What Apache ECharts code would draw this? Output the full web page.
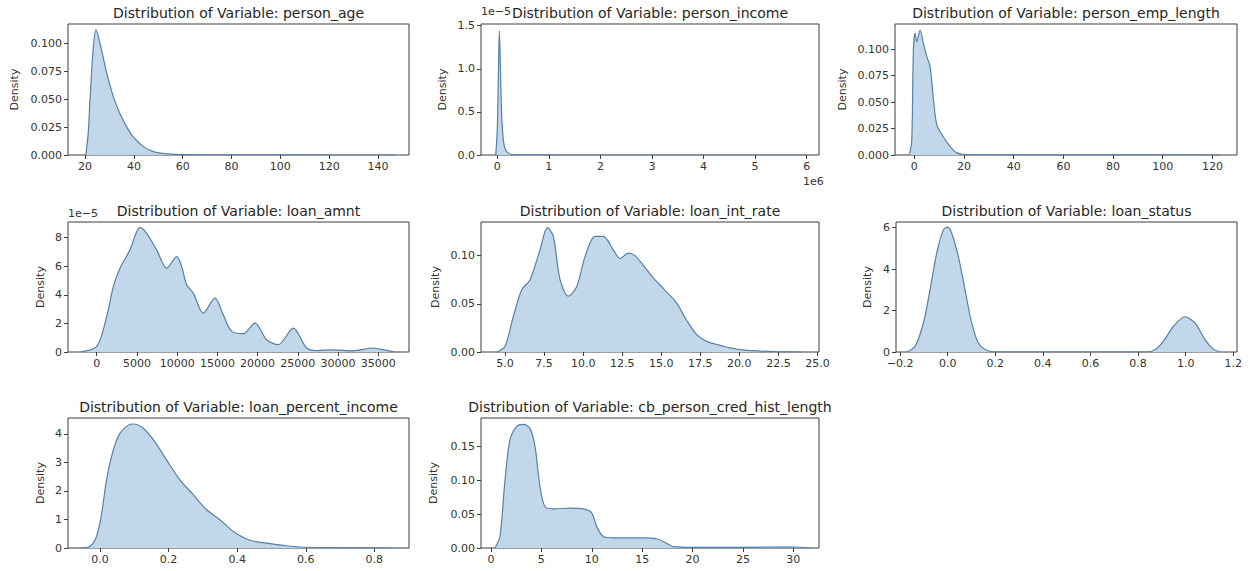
<!DOCTYPE html>
<html>
<head>
<meta charset="utf-8">
<script src="https://cdn.jsdelivr.net/npm/echarts@6/dist/echarts.min.js"></script>
<style>
html,body{margin:0;padding:0;background:#fff;}
#chart{width:1251px;height:571px;}
</style>
</head>
<body>
<div id="chart"></div>
<script>
// ---------- data ----------
const personAgeX = [20.3, 21.3, 22.0, 23.4, 24.5, 26.1, 28.9, 31.6, 34.3, 37.1, 39.8, 43.9, 48, 53.5, 61.6, 80, 100, 147];
const personAgeY = [0, 0.02, 0.049, 0.097, 0.112, 0.1, 0.073, 0.052, 0.037, 0.025, 0.016, 0.0075, 0.003, 0.001, 0.0003, 0.0001, 0.00003, 0];

const personIncomeX = [-30000, 0, 20000, 40000, 60000, 80000, 100000, 130000, 170000, 220000, 300000, 1000000, 6000000];
const personIncomeY = [0, 0.3e-5, 0.9e-5, 1.44e-5, 1.05e-5, 0.55e-5, 0.3e-5, 0.12e-5, 0.05e-5, 0.02e-5, 0.005e-5, 0.0003e-5, 0];

const empLengthX = [-2.0, -1.05, -0.4, 0.3, 0.97, 2.3, 3.6, 5.0, 6.3, 7.7, 9.1, 11.7, 14.4, 17.1, 19.7, 30, 123];
const empLengthY = [0, 0.014, 0.099, 0.115, 0.107, 0.118, 0.106, 0.093, 0.084, 0.052, 0.028, 0.017, 0.008, 0.002, 0.0007, 0.0002, 0];

const loanAmntX = [-2075, 0, 1242, 2070, 2895, 4137, 5380, 6210, 7455, 8700, 9940, 10560, 11180, 12000, 13250, 14700, 15730, 16770, 18220, 19670, 21120, 22560, 24430, 26090, 27330, 29400, 31890, 34370, 35200, 37070];
const loanAmntY = [0, 0.39e-5, 2.48e-5, 4.58e-5, 5.86e-5, 7.14e-5, 8.72e-5, 8.3e-5, 7.14e-5, 5.86e-5, 6.67e-5, 5.97e-5, 4.7e-5, 4.12e-5, 2.72e-5, 3.77e-5, 2.6e-5, 1.44e-5, 1.28e-5, 2.02e-5, 0.86e-5, 0.51e-5, 1.67e-5, 0.28e-5, 0.1e-5, 0.15e-5, 0.08e-5, 0.28e-5, 0.2e-5, 0];

const intRateX = [4.5, 5.0, 5.53, 6.07, 6.6, 7.24, 7.71, 8.09, 8.52, 9.05, 9.59, 10.12, 10.76, 11.29, 11.93, 12.36, 12.89, 13.32, 13.85, 14.49, 15.13, 15.98, 16.62, 17.27, 17.91, 18.98, 20.04, 21.32, 22.38, 24.0];
const intRateY = [0, 0.006, 0.037, 0.0645, 0.075, 0.106, 0.129, 0.12, 0.075, 0.058, 0.068, 0.099, 0.12, 0.12, 0.106, 0.097, 0.1025, 0.1, 0.09, 0.077, 0.066, 0.051, 0.033, 0.018, 0.011, 0.006, 0.0025, 0.001, 0.0004, 0];

const loanStatusX = [-0.172, -0.137, -0.102, -0.074, -0.046, -0.018, 0.0, 0.017, 0.045, 0.073, 0.101, 0.129, 0.164, 0.2, 0.836, 0.871, 0.906, 0.948, 0.997, 1.039, 1.081, 1.116, 1.144];
const loanStatusY = [0, 0.27, 1.4, 3.0, 4.77, 5.89, 6.02, 5.73, 4.6, 3.0, 1.4, 0.43, 0.08, 0, 0, 0.11, 0.51, 1.23, 1.7, 1.4, 0.6, 0.14, 0];

const pctIncomeX = [-0.058, -0.029, -0.01, 0.005, 0.019, 0.039, 0.058, 0.083, 0.097, 0.126, 0.156, 0.194, 0.233, 0.272, 0.311, 0.35, 0.389, 0.437, 0.486, 0.535, 0.583, 0.68, 0.778, 0.855];
const pctIncomeY = [0, 0.06, 0.41, 1.22, 2.39, 3.44, 4.02, 4.31, 4.35, 4.2, 3.79, 3.09, 2.39, 1.87, 1.34, 0.99, 0.58, 0.27, 0.17, 0.09, 0.035, 0.012, 0.005, 0];

const credHistX = [0.4, 0.89, 1.39, 1.88, 2.55, 3.2, 3.87, 4.37, 4.86, 5.36, 6.18, 7.84, 9.16, 9.99, 10.48, 11.14, 12.13, 15.1, 16.6, 17.43, 18.09, 20.07, 25.03, 30.0, 31.6];
const credHistY = [0, 0.017, 0.1, 0.16, 0.18, 0.183, 0.177, 0.15, 0.091, 0.061, 0.058, 0.059, 0.058, 0.052, 0.032, 0.017, 0.015, 0.015, 0.013, 0.007, 0.002, 0.001, 0.001, 0.0015, 0];

// ---------- tick values ----------
const ageTicksX = [20, 40, 60, 80, 100, 120, 140];
const ageTicksY = [0, 0.025, 0.05, 0.075, 0.1];
const incomeTicksX = [0, 1000000, 2000000, 3000000, 4000000, 5000000, 6000000];
const incomeTicksY = [0, 0.5e-5, 1.0e-5, 1.5e-5];
const empTicksX = [0, 20, 40, 60, 80, 100, 120];
const empTicksY = [0, 0.025, 0.05, 0.075, 0.1];
const amntTicksX = [0, 5000, 10000, 15000, 20000, 25000, 30000, 35000];
const amntTicksY = [0, 2e-5, 4e-5, 6e-5, 8e-5];
const rateTicksX = [5, 7.5, 10, 12.5, 15, 17.5, 20, 22.5, 25];
const rateTicksY = [0, 0.05, 0.1];
const statusTicksX = [-0.2, 0, 0.2, 0.4, 0.6, 0.8, 1.0, 1.2];
const statusTicksY = [0, 2, 4, 6];
const pctTicksX = [0, 0.2, 0.4, 0.6, 0.8];
const pctTicksY = [0, 1, 2, 3, 4];
const histTicksX = [0, 5, 10, 15, 20, 25, 30];
const histTicksY = [0, 0.05, 0.1, 0.15];

const titles = [
  'Distribution of Variable: person_age',
  'Distribution of Variable: person_income',
  'Distribution of Variable: person_emp_length',
  'Distribution of Variable: loan_amnt',
  'Distribution of Variable: loan_int_rate',
  'Distribution of Variable: loan_status',
  'Distribution of Variable: loan_percent_income',
  'Distribution of Variable: cb_person_cred_hist_length'
];

// ---------- formatting helpers ----------
const mpl = s => String(s).replace('-', '\u2212');
const fix = d => v => mpl(Number(v).toFixed(d));
const intFmt = v => mpl(String(Math.round(v)));

// ---------- layout ----------
const panels = [
  {x: personAgeX, y: personAgeY, tx: ageTicksX, ty: ageTicksY, fx: intFmt, fy: fix(3),
   xr: [13.0, 152.7], yr: [0, 0.1173], g: [68, 24, 341, 131], gap: 48},
  {x: personIncomeX, y: personIncomeY, tx: incomeTicksX, ty: incomeTicksY, fx: v => intFmt(v / 1e6), fy: v => (v / 1e-5).toFixed(1),
   xr: [-316000, 6240000], yr: [0, 1.52e-5], g: [481, 24, 338, 131], gap: 33},
  {x: empLengthX, y: empLengthY, tx: empTicksX, ty: empTicksY, fx: intFmt, fy: fix(3),
   xr: [-7.8, 129.9], yr: [0, 0.1239], g: [895, 24, 342, 131], gap: 47},
  {x: loanAmntX, y: loanAmntY, tx: amntTicksX, ty: amntTicksY, fx: intFmt, fy: v => intFmt(v / 1e-5),
   xr: [-3566, 38814], yr: [0, 9.09e-5], g: [68, 222, 341, 130], gap: 22},
  {x: intRateX, y: intRateY, tx: rateTicksX, ty: rateTicksY, fx: fix(1), fy: fix(2),
   xr: [3.46, 25.1], yr: [0, 0.1349], g: [481, 222, 338, 130], gap: 40},
  {x: loanStatusX, y: loanStatusY, tx: statusTicksX, ty: statusTicksY, fx: fix(1), fy: intFmt,
   xr: [-0.217, 1.2155], yr: [0, 6.27], g: [896, 222, 341, 130], gap: 23},
  {x: pctIncomeX, y: pctIncomeY, tx: pctTicksX, ty: pctTicksY, fx: fix(1), fy: intFmt,
   xr: [-0.0933, 0.901], yr: [0, 4.56], g: [68, 418, 341, 130], gap: 22},
  {x: credHistX, y: credHistY, tx: histTicksX, ty: histTicksY, fx: intFmt, fy: fix(2),
   xr: [-0.99, 32.55], yr: [0, 0.1924], g: [481, 418, 338, 130], gap: 42}
];

const FONT = 'DejaVu Sans';
const TXT = '#333';
const SPINE = '#3d3d3d';

const option = {
  animation: false,
  backgroundColor: '#ffffff',
  title: [], grid: [], xAxis: [], yAxis: [], series: [],
  graphic: [
    {type: 'text', left: 481, top: 6, style: {text: '1e\u22125', font: '11px "DejaVu Sans"', fill: TXT}},
    {type: 'text', left: 68, top: 208, style: {text: '1e\u22125', font: '11px "DejaVu Sans"', fill: TXT}},
    {type: 'text', left: 803, top: 176, style: {text: '1e6', font: '11px "DejaVu Sans"', fill: TXT}}
  ]
};

panels.forEach((p, i) => {
  const [l, t, w, h] = p.g;
  option.title.push({
    text: titles[i], left: l + w / 2, top: t - 11, textAlign: 'center', textVerticalAlign: 'middle', padding: 0,
    textStyle: {fontFamily: FONT, fontSize: 14, fontWeight: 'normal', color: '#262626'}
  });
  option.grid.push({left: l, top: t, width: w, height: h, show: true, borderColor: SPINE, borderWidth: 1, backgroundColor: '#fff', containLabel: false});
  option.xAxis.push({
    type: 'value', gridIndex: i, min: p.xr[0], max: p.xr[1],
    axisLine: {show: false, onZero: false}, splitLine: {show: false},
    axisTick: {show: true, inside: false, length: 4, lineStyle: {color: SPINE, width: 1}, customValues: p.tx},
    axisLabel: {show: true, margin: 6, color: TXT, fontFamily: FONT, fontSize: 11, customValues: p.tx, formatter: p.fx}
  });
  option.yAxis.push({
    type: 'value', gridIndex: i, min: p.yr[0], max: p.yr[1],
    name: 'Density', nameLocation: 'middle', nameGap: p.gap,
    nameTextStyle: {fontFamily: FONT, fontSize: 11, color: TXT},
    axisLine: {show: false, onZero: false}, splitLine: {show: false},
    axisTick: {show: true, inside: false, length: 4, lineStyle: {color: SPINE, width: 1}, customValues: p.ty},
    axisLabel: {show: true, margin: 6, color: TXT, fontFamily: FONT, fontSize: 11, customValues: p.ty, formatter: p.fy}
  });
  option.series.push({
    type: 'line', xAxisIndex: i, yAxisIndex: i, showSymbol: false, smooth: 0.3,
    lineStyle: {color: '#5580a8', width: 1.2},
    areaStyle: {color: '#c3d7ea', opacity: 1},
    data: p.x.map((v, k) => [v, p.y[k]])
  });
});

const chart = echarts.init(document.getElementById('chart'), null, {renderer: 'svg'});
chart.setOption(option);
</script>
</body>
</html>
